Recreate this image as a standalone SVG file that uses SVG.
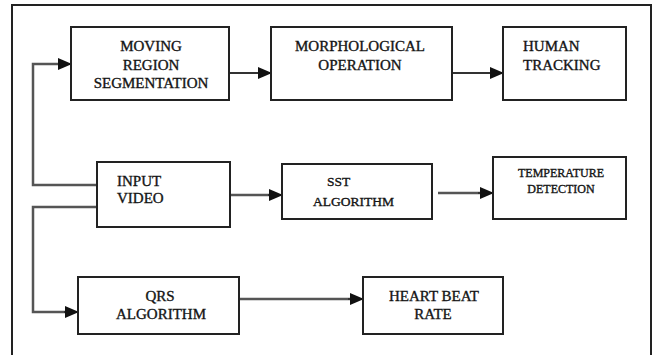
<svg xmlns="http://www.w3.org/2000/svg" width="654" height="355" viewBox="0 0 654 355">
<defs>
<marker id="ah" markerWidth="14" markerHeight="14" refX="13" refY="7" orient="auto" markerUnits="userSpaceOnUse">
<path d="M0,1 L14,7 L0,13 Z" fill="#111"/>
</marker>
<style>
.box{fill:#fff;stroke:#222;stroke-width:2}
.t{font-family:"Liberation Serif","Times New Roman",serif;font-size:15px;fill:#141414;stroke:#141414;stroke-width:0.35}
.c{text-anchor:middle}
.s{font-size:13.5px}
.xs{font-size:12px}
.ln{fill:none;stroke:#333;stroke-width:2}
.lg{fill:none;stroke:#555;stroke-width:2.5}
</style>
</defs>
<rect width="654" height="355" fill="#fff"/>
<rect x="12" y="5" width="639" height="360" fill="none" stroke="#222" stroke-width="2"/>
<g id="connectors">
<path class="lg" d="M97,185 H33 V64 H58"/>
<path class="ln" d="M58,64 H71" marker-end="url(#ah)"/>
<path class="lg" d="M97,207 H33 V312 H65"/>
<path class="ln" d="M64,312 H78" marker-end="url(#ah)"/>
<path class="ln" d="M229,73 H271" marker-end="url(#ah)"/>
<path class="ln" d="M452,73 H503" marker-end="url(#ah)"/>
<path class="lg" d="M230,195 H270"/>
<path class="ln" d="M268,195 H282" marker-end="url(#ah)"/>
<path class="lg" d="M438,193 H480"/>
<path class="ln" d="M478,193 H493" marker-end="url(#ah)"/>
<path class="lg" d="M239,299 H350"/>
<path class="ln" d="M348,299 H363" marker-end="url(#ah)"/>
</g>
<g id="moving">
<rect class="box" x="71" y="27" width="158" height="73"/>
<text class="t c" x="151" y="51">MOVING</text>
<text class="t c" x="151" y="70">REGION</text>
<text class="t c" x="151" y="88">SEGMENTATION</text>
</g>
<g id="morph">
<rect class="box" x="271" y="27" width="181" height="73"/>
<text class="t c" x="360" y="51">MORPHOLOGICAL</text>
<text class="t c" x="360" y="70">OPERATION</text>
</g>
<g id="human">
<rect class="box" x="503" y="27" width="123" height="73"/>
<text class="t" x="523" y="51">HUMAN</text>
<text class="t" x="523" y="70">TRACKING</text>
</g>
<g id="input">
<rect class="box" x="97" y="162" width="133" height="65"/>
<text class="t" x="117" y="186">INPUT</text>
<text class="t" x="117" y="203">VIDEO</text>
</g>
<g id="sst">
<rect class="box" x="282" y="164" width="150" height="55"/>
<text class="t s" x="327" y="186">SST</text>
<text class="t s" x="313" y="206">ALGORITHM</text>
</g>
<g id="temp">
<rect class="box" x="493" y="157" width="133" height="62"/>
<text class="t xs c" x="561" y="177">TEMPERATURE</text>
<text class="t xs c" x="561" y="193">DETECTION</text>
</g>
<g id="qrs">
<rect class="box" x="78" y="277" width="161" height="57"/>
<text class="t c" x="160" y="301">QRS</text>
<text class="t c" x="161" y="319">ALGORITHM</text>
</g>
<g id="heart">
<rect class="box" x="363" y="277" width="140" height="57"/>
<text class="t c" x="434" y="301">HEART  BEAT</text>
<text class="t c" x="433" y="319">RATE</text>
</g>
</svg>
